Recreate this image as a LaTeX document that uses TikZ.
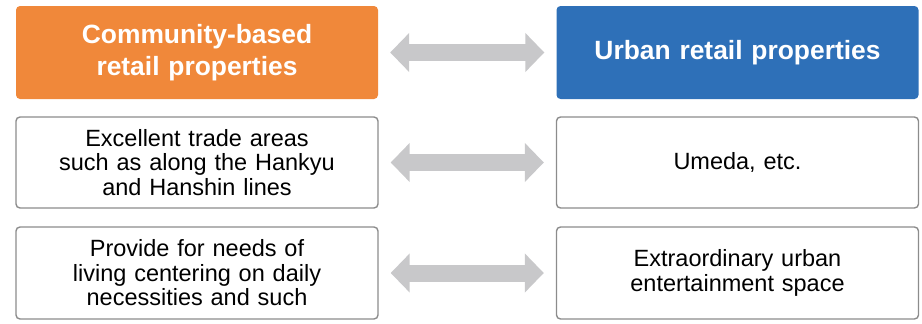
\documentclass[tikz,border=0pt]{standalone}
\usepackage{fontspec}
\setmainfont{Liberation Sans}
\usetikzlibrary{arrows.meta}
\definecolor{commorange}{HTML}{F0883A}
\definecolor{urbanblue}{HTML}{2E70B8}
\definecolor{arrowgray}{HTML}{C8C8CA}
\definecolor{framegray}{HTML}{8C8C8C}
\tikzset{
  headbox/.style={rounded corners=4pt, minimum width=362pt, minimum height=93pt,
    text width=350pt, align=center, text=white, inner sep=0pt,
    font=\fontsize{26.4}{32}\selectfont\bfseries},
  itembox/.style={draw=framegray, line width=1.4pt, rounded corners=4pt, fill=white,
    minimum width=362pt, minimum height=91pt, text width=350pt, align=center,
    inner sep=0pt, font=\fontsize{23.5}{24.5}\selectfont},
  dblarrow/.style={draw=arrowgray, line width=17pt, shorten <=12pt, shorten >=12pt,
    {Triangle[length=19pt,width=38pt]}-{Triangle[length=19pt,width=38pt]}}
}

\begin{document}
\begin{tikzpicture}[x=1pt,y=1pt]
  \useasboundingbox (0,0) rectangle (922,-324);

  % header row
  \node[headbox, fill=commorange] (l1) at (197,-52.5) {Community-based\\retail properties};
  \node[headbox, fill=urbanblue] (r1) at (737.5,-52.5) {Urban retail properties};

  % trade areas
  \node[itembox] (l2) at (197,-162.5) {Excellent trade areas\\such as along the Hankyu\\and Hanshin lines};
  \node[itembox] (r2) at (737.5,-162.5) {Umeda, etc.};

  % kind of demand
  \node[itembox, minimum height=92pt] (l3) at (197,-273) {Provide for needs of\\living centering on daily\\necessities and such};
  \node[itembox, minimum height=92pt] (r3) at (737.5,-273) {Extraordinary urban\\entertainment space};

  \foreach \r in {1,2,3}{
    \draw[dblarrow] (l\r.east) -- (r\r.west);% Two-way arrow between columns
  }
\end{tikzpicture}
\end{document}
